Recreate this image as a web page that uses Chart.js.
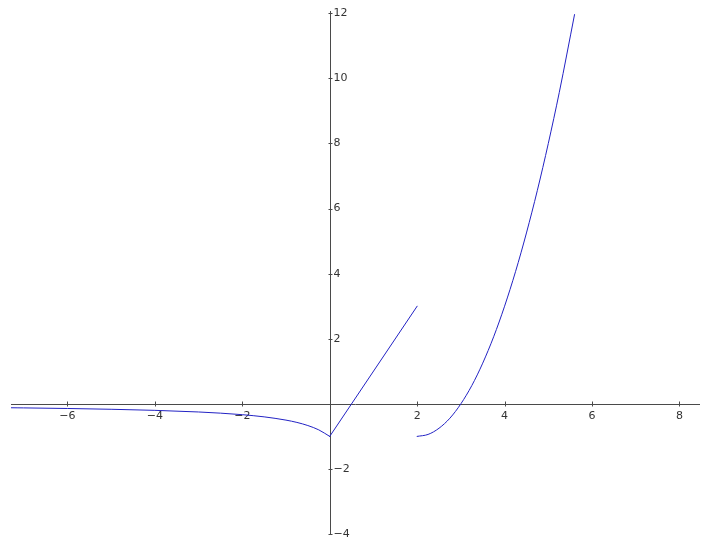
<!DOCTYPE html>
<html>
<head>
<meta charset="utf-8">
<title>Función a trozos</title>
<script src="https://cdn.jsdelivr.net/npm/chart.js@4.4.1/dist/chart.umd.min.js"></script>
<style>
  html, body { margin: 0; padding: 0; background: #fff; }
  canvas { display: block; }
</style>
</head>
<body>
<canvas id="grafico" width="701" height="539"></canvas>
<script>
// ===== DATOS =====
// tramo x <= 0
const xIzq = [-7.3, -7, -6, -5, -4, -3, -2.5, -2, -1.5, -1, -0.75, -0.5, -0.25, 0];
const yIzq = [-0.12, -0.125, -0.143, -0.167, -0.2, -0.25, -0.286, -0.333, -0.4, -0.5, -0.571, -0.667, -0.8, -1];
// tramo recto 0..2
const xMedio = [0, 2];
const yMedio = [-1, 3];
// tramo parábola 2..5.6
const xDer = [2, 2.25, 2.5, 2.75, 3, 3.25, 3.5, 3.75, 4, 4.25, 4.5, 4.75, 5, 5.25, 5.6];
const yDer = [-1, -0.94, -0.75, -0.44, 0, 0.56, 1.25, 2.06, 3, 4.06, 5.25, 6.56, 8, 9.56, 11.96];

const ticksX = [-6, -4, -2, 2, 4, 6, 8];
const ticksY = [-4, -2, 2, 4, 6, 8, 10, 12];

const COR_LINHA = '#2222c4';
const COR_EIXO = '#4a4a4a';
const COR_TEXTO = '#333333';

function pares(xs, ys) {
  return xs.map((x, i) => ({ x, y: ys[i] }));
}

function serie(xs, ys) {
  return {
    data: pares(xs, ys),
    showLine: true,
    borderColor: COR_LINHA,
    borderWidth: 1,
    pointRadius: 0,
    fill: false,
    cubicInterpolationMode: 'monotone',
  };
}

// ===== EIXOS NA ORIGEM =====
const eixosPlugin = {
  id: 'eixos',
  beforeDatasetsDraw(chart) {
    const { ctx, chartArea: a, scales: { x, y } } = chart;
    const x0 = Math.round(x.getPixelForValue(0)) + 0.5;
    const y0 = Math.round(y.getPixelForValue(0)) + 0.5;
    ctx.save();
    ctx.strokeStyle = COR_EIXO;
    ctx.lineWidth = 1;
    ctx.beginPath();
    ctx.moveTo(a.left, y0);
    ctx.lineTo(a.right, y0);
    ctx.moveTo(x0, a.top);
    ctx.lineTo(x0, a.bottom);
    ticksX.forEach(v => {
      const px = Math.round(x.getPixelForValue(v)) + 0.5;
      ctx.moveTo(px, y0 - 3);
      ctx.lineTo(px, y0 + 2);
    });
    ticksY.forEach(v => {
      const py = Math.round(y.getPixelForValue(v)) + 0.5;
      ctx.moveTo(x0 - 2, py);
      ctx.lineTo(x0 + 2, py);
    });
    ctx.stroke();

    ctx.fillStyle = COR_TEXTO;
    ctx.font = '11px "DejaVu Sans", Verdana, sans-serif';
    ctx.textAlign = 'center';
    ctx.textBaseline = 'middle';
    ticksX.forEach(v => {
      const px = x.getPixelForValue(v);
      ctx.fillText(String(v).replace('-', '\u2212'), px, y0 + 12);
    });
    ctx.textAlign = 'left';
    ticksY.forEach(v => {
      const py = y.getPixelForValue(v);
      ctx.fillText(String(v).replace('-', '\u2212'), x0 + 3, py);
    });
    ctx.restore();
  }
};

new Chart(document.getElementById('grafico'), {
  type: 'scatter',
  data: {
    datasets: [serie(xIzq, yIzq), serie(xMedio, yMedio), serie(xDer, yDer)]
  },
  options: {
    responsive: false,
    animation: false,
    layout: { padding: { left: 11, right: 1, top: 11, bottom: 4 } },
    plugins: { legend: { display: false }, tooltip: { enabled: false } },
    scales: {
      x: { type: 'linear', min: -7.29, max: 8.47, display: false },
      y: { type: 'linear', min: -4.03, max: 12.07, display: false }
    },
    elements: { line: { borderCapStyle: 'round' } }
  },
  plugins: [eixosPlugin]
});
</script>
</body>
</html>
